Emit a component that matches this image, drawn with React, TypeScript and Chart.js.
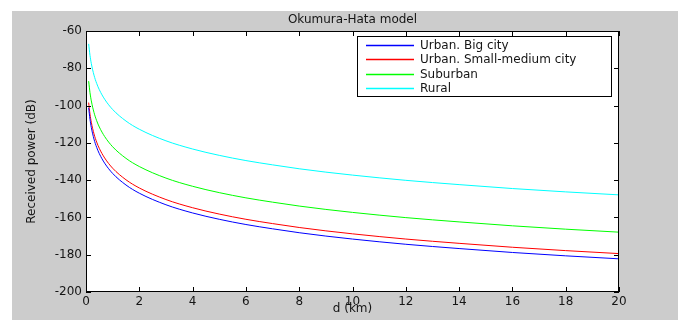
import React, { useEffect, useRef } from 'react';
import { Chart, registerables } from 'chart.js';

Chart.register(...registerables);

// Distance (km)
const distanceKm = [0.1, 0.15, 0.2, 0.3, 0.4, 0.5, 0.7, 1, 1.5, 2, 3, 4, 5, 6, 7, 8, 9, 10, 12, 14, 16, 18, 20];

// Received power (dB)
const urbanBigCity = [-101.2, -107.4, -111.8, -118.0, -122.4, -125.8, -130.9, -136.4, -142.6, -147.0, -153.2, -157.6, -161.0, -163.8, -166.1, -168.2, -170.0, -171.6, -174.4, -176.7, -178.8, -180.6, -182.2];
const urbanSmallMedium = [-98.4, -104.6, -109.0, -115.2, -119.6, -123.0, -128.1, -133.6, -139.8, -144.2, -150.4, -154.8, -158.2, -161.0, -163.3, -165.4, -167.2, -168.8, -171.6, -173.9, -176.0, -177.8, -179.4];
const suburban = [-86.9, -93.1, -97.5, -103.7, -108.1, -111.5, -116.6, -122.1, -128.3, -132.7, -138.9, -143.3, -146.7, -149.5, -151.8, -153.9, -155.7, -157.3, -160.1, -162.4, -164.5, -166.3, -167.9];
const rural = [-66.9, -73.1, -77.5, -83.7, -88.1, -91.5, -96.6, -102.1, -108.3, -112.7, -118.9, -123.3, -126.7, -129.5, -131.8, -133.9, -135.7, -137.3, -140.1, -142.4, -144.5, -146.3, -147.9];

const seriesLabels = ['Urban. Big city', 'Urban. Small-medium city', 'Suburban', 'Rural'];
const seriesColors = ['#0000ff', '#ff0000', '#00ff00', '#00ffff'];
const seriesValues = [urbanBigCity, urbanSmallMedium, suburban, rural];

const xTickMin = 0;
const xTickMax = 20;
const xTickStep = 2;
const yTickMin = -200;
const yTickMax = -60;
const yTickStep = 20;

const FONT = "'DejaVu Sans', 'Liberation Sans', sans-serif";
const TEXT = '#151515';

const matlabFrame = {
  id: 'matlabFrame',
  beforeDraw(chart: any) {
    const { ctx, width, height, chartArea } = chart;
    ctx.save();
    ctx.fillStyle = '#ffffff';
    ctx.fillRect(0, 0, width, height);
    ctx.fillStyle = '#cccccc';
    ctx.fillRect(12, 11, width - 17, height - 11);
    ctx.fillStyle = '#ffffff';
    ctx.fillRect(chartArea.left, chartArea.top, chartArea.right - chartArea.left, chartArea.bottom - chartArea.top);
    ctx.restore();
  },
  afterDraw(chart: any) {
    const { ctx, chartArea } = chart;
    const { left, right, top, bottom } = chartArea;
    const xs = chart.scales.x;
    const ys = chart.scales.y;
    const tl = 5;
    ctx.save();
    ctx.strokeStyle = '#000000';
    ctx.lineWidth = 1;
    ctx.strokeRect(left + 0.5, top + 0.5, right - left - 1, bottom - top - 1);
    ctx.beginPath();
    xs.ticks.forEach((t: any) => {
      const px = Math.round(xs.getPixelForValue(t.value)) + 0.5;
      ctx.moveTo(px, bottom);
      ctx.lineTo(px, bottom - tl);
      ctx.moveTo(px, top);
      ctx.lineTo(px, top + tl);
    });
    ys.ticks.forEach((t: any) => {
      const py = Math.round(ys.getPixelForValue(t.value)) + 0.5;
      ctx.moveTo(left, py);
      ctx.lineTo(left + tl, py);
      ctx.moveTo(right, py);
      ctx.lineTo(right - tl, py);
    });
    ctx.stroke();

    // legend box (MATLAB style, inside axes, top-right)
    const bw = 255;
    const bh = 61;
    const bx = right - 7 - bw;
    const by = top + 5;
    ctx.fillStyle = '#ffffff';
    ctx.fillRect(bx, by, bw, bh);
    ctx.strokeStyle = '#000000';
    ctx.strokeRect(bx + 0.5, by + 0.5, bw - 1, bh - 1);
    ctx.font = `12px ${FONT}`;
    ctx.textBaseline = 'middle';
    ctx.textAlign = 'left';
    chart.data.datasets.forEach((ds: any, i: number) => {
      const ry = Math.round(by + 9 + i * 14.4) + 0.5;
      ctx.strokeStyle = ds.borderColor;
      ctx.lineWidth = 1.3;
      ctx.beginPath();
      ctx.moveTo(bx + 9, ry);
      ctx.lineTo(bx + 57, ry);
      ctx.stroke();
      ctx.fillStyle = TEXT;
      ctx.fillText(ds.label, bx + 63, ry);
    });
    ctx.restore();
  },
};

export default function App() {
  const canvasRef = useRef<HTMLCanvasElement | null>(null);

  useEffect(() => {
    if (!canvasRef.current) return;
    const datasets = seriesLabels.map((label, i) => ({
      label,
      data: distanceKm.map((d, j) => ({ x: d, y: seriesValues[i][j] })),
      borderColor: seriesColors[i],
      backgroundColor: seriesColors[i],
      borderWidth: 1,
      pointRadius: 0,
      fill: false,
      cubicInterpolationMode: 'monotone' as const,
    }));
    const chart = new Chart(canvasRef.current, {
      type: 'line',
      data: { datasets },
      plugins: [matlabFrame],
      options: {
        animation: false,
        responsive: false,
        devicePixelRatio: 1,
        layout: { padding: { left: 0, right: 64, top: 0, bottom: 0 } },
        plugins: {
          legend: { display: false },
          tooltip: { enabled: false },
          title: {
            display: true,
            fullSize: false,
            text: 'Okumura-Hata model',
            color: TEXT,
            font: { family: FONT, size: 12, weight: 'normal', lineHeight: 1.2 },
            padding: { top: 12.8, bottom: 3.8 },
          },
        },
        scales: {
          x: {
            type: 'linear',
            min: xTickMin,
            max: xTickMax,
            grid: { display: false, drawTicks: false },
            border: { display: false },
            ticks: { stepSize: xTickStep, color: TEXT, padding: 3, maxRotation: 0, font: { family: FONT, size: 12 } },
            title: { display: true, text: 'd (km)', color: TEXT, font: { family: FONT, size: 12, lineHeight: 1.2 }, padding: { top: 0, bottom: 3.5 } },
            afterFit: (s: any) => { s.height = 28; },
          },
          y: {
            type: 'linear',
            min: yTickMin,
            max: yTickMax,
            grid: { display: false, drawTicks: false },
            border: { display: false },
            ticks: { stepSize: yTickStep, color: TEXT, padding: 4, font: { family: FONT, size: 12 } },
            title: { display: true, text: 'Received power (dB)', color: TEXT, font: { family: FONT, size: 12, lineHeight: 1.2 }, padding: { top: 25, bottom: 0 } },
            afterFit: (s: any) => { s.width = 86; },
          },
        },
      },
    });
    return () => chart.destroy();
  }, []);

  return (
    <div style={{ position: 'absolute', left: 0, top: 0, width: 683, height: 320 }}>
      <canvas ref={canvasRef} width={683} height={320} style={{ display: 'block' }} />
    </div>
  );
}
